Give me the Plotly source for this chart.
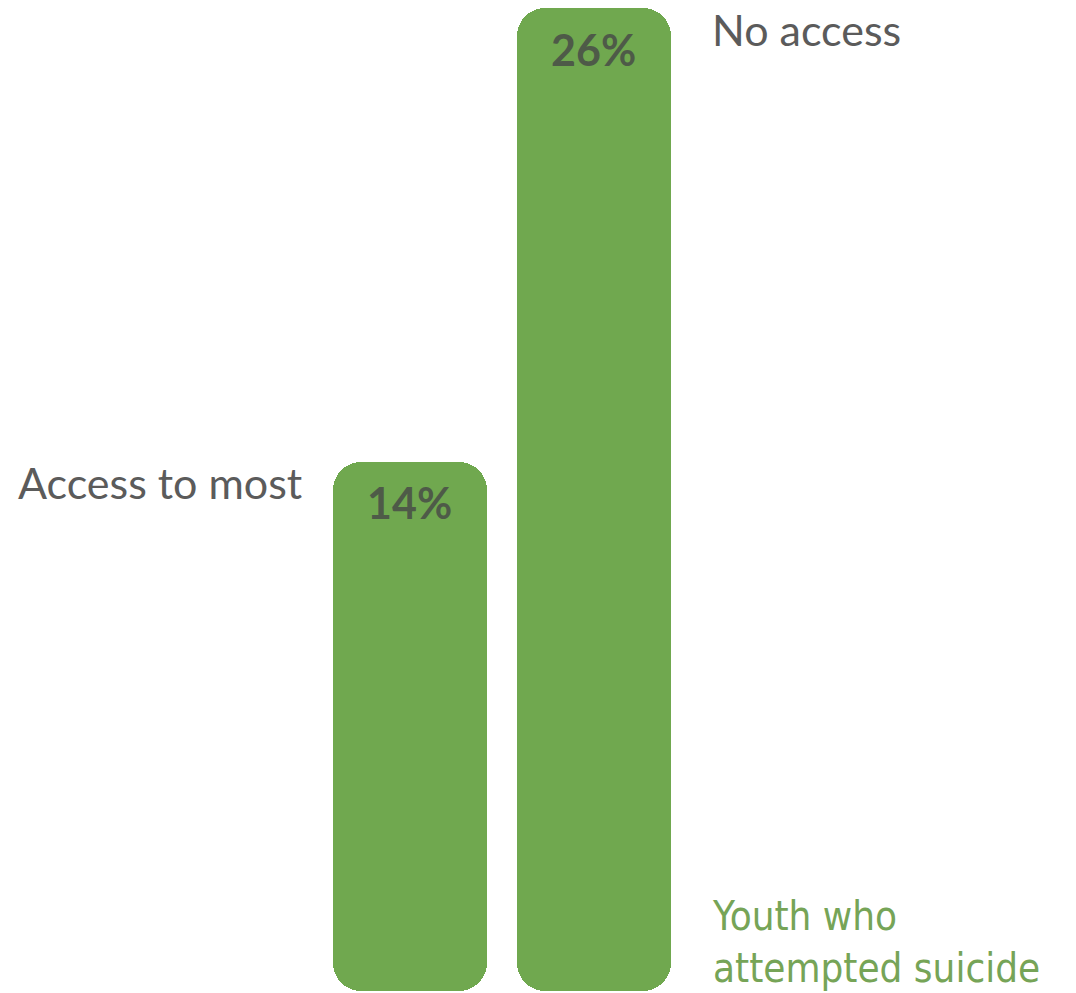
import plotly.graph_objects as go

categories = ["Access to most", "No access"]
values = [14, 26]
value_labels = ["14%", "26%"]
series_label = "Youth who<br>attempted suicide"

BAR = "#70a84f"
GREY = "#5b5b5b"
DARK = "#4e5a48"
GREEN_TXT = "#76a457"

xs = list(range(len(categories)))
W = 0.837

fig = go.Figure()
# upper half with rounded top end
fig.add_trace(go.Bar(
    x=xs, y=[v * 0.55 for v in values], base=[v * 0.45 for v in values],
    width=W, marker=dict(color=BAR, line=dict(width=0)), hoverinfo="skip",
    showlegend=False))
# lower half with rounded bottom end
fig.add_trace(go.Bar(
    x=xs, y=[-v * 0.55 for v in values], base=[v * 0.55 for v in values],
    width=W, marker=dict(color=BAR, line=dict(width=0)), hoverinfo="skip",
    showlegend=False))

annotations = []
for i, (c, v, lab) in enumerate(zip(categories, values, value_labels)):
    annotations.append(dict(
        x=i, y=v, text=f"<b>{lab}</b>", showarrow=False, xanchor="center",
        yanchor="middle", yshift=-41,
        font=dict(family="Lato, Open Sans, sans-serif", size=43, color=DARK)))

annotations.append(dict(
    x=0 - W / 2, y=values[0], text=categories[0], showarrow=False,
    xanchor="right", yanchor="middle", xshift=-29, yshift=-21,
    font=dict(family="Lato, Open Sans, sans-serif", size=43, color=GREY)))
annotations.append(dict(
    x=1 + W / 2, y=values[1], text=categories[1], showarrow=False,
    xanchor="left", yanchor="middle", xshift=39, yshift=-21,
    font=dict(family="Lato, Open Sans, sans-serif", size=43, color=GREY)))
annotations.append(dict(
    x=1 + W / 2, y=0, text=series_label, showarrow=False, align="left",
    xanchor="left", yanchor="bottom", xshift=39, yshift=-2,
    font=dict(family="Liberation Sans Narrow, DejaVu Sans Condensed, Roboto, sans-serif",
              size=40, color=GREEN_TXT)))

fig.update_layout(
    width=1076, height=993,
    margin=dict(l=0, r=0, t=8, b=2),
    paper_bgcolor="white", plot_bgcolor="white",
    barmode="overlay", barcornerradius=28, bargap=0,
    xaxis=dict(range=[-2.228, 3.620], visible=False, fixedrange=True),
    yaxis=dict(range=[0, 26], visible=False, fixedrange=True),
    annotations=annotations,
)

fig.write_html("out.html", config={"displayModeBar": False},
               post_script="document.body.style.margin='0';")
